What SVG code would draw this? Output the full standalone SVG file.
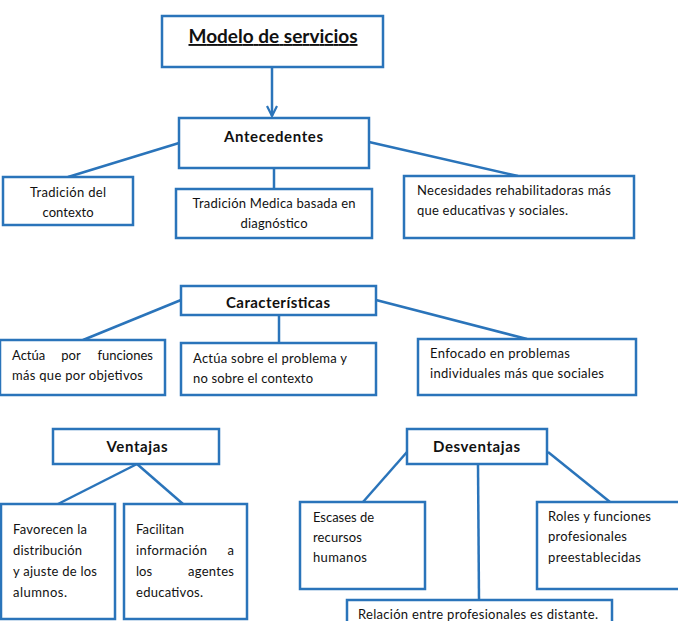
<svg xmlns="http://www.w3.org/2000/svg" width="678" height="621" viewBox="0 0 678 621">
<style>
.box{fill:#fff;stroke:#2A74BA;stroke-width:2.5}
.ln{stroke:#2A74BA;stroke-width:2.5;fill:none}
.t{font-family:Lato,"Open Sans","Liberation Sans",sans-serif;font-size:13px;fill:#111}
.h{font-family:Lato,"Open Sans","Liberation Sans",sans-serif;font-size:15px;font-weight:bold;fill:#111;text-anchor:middle}
.c{text-anchor:middle}
.e{text-anchor:end}
</style>
<defs>
<marker id="arr" viewBox="0 0 12 12" refX="11" refY="6" markerWidth="12" markerHeight="12" markerUnits="userSpaceOnUse" orient="auto">
<path d="M1,1 L11,6 L1,11" fill="none" stroke="#2A74BA" stroke-width="2.2"/>
</marker>
</defs>
<g id="connectors">
<line class="ln" x1="272" y1="67" x2="272" y2="116" marker-end="url(#arr)"/>
<line class="ln" x1="179" y1="143" x2="68" y2="177"/>
<line class="ln" x1="274" y1="168" x2="274" y2="189"/>
<line class="ln" x1="369" y1="142" x2="518" y2="176"/>
<line class="ln" x1="181" y1="300" x2="83" y2="340"/>
<line class="ln" x1="279" y1="315" x2="279" y2="343"/>
<line class="ln" x1="376" y1="300" x2="527" y2="339"/>
<line class="ln" x1="137" y1="464" x2="58" y2="504"/>
<line class="ln" x1="137" y1="464" x2="183" y2="504"/>
<line class="ln" x1="407" y1="452" x2="363" y2="502"/>
<line class="ln" x1="478" y1="464" x2="479" y2="600"/>
<line class="ln" x1="548" y1="452" x2="610" y2="502"/>
</g>
<g id="modelo">
<rect class="box" x="162" y="16" width="221" height="51"/>
<text x="273" y="43" text-anchor="middle" font-family="Lato,'Open Sans','Liberation Sans',sans-serif" font-size="19" font-weight="bold" text-decoration="underline" fill="#111" textLength="169">Modelo de servicios</text>
</g>
<g id="antecedentes">
<rect class="box" x="179" y="118" width="190" height="50"/>
<text class="h" x="273.5" y="142" textLength="99">Antecedentes</text>
</g>
<g id="tradicion-contexto">
<rect class="box" x="3" y="177" width="130" height="48"/>
<text class="t c" x="68" y="197" textLength="76">Tradición del</text>
<text class="t c" x="68" y="217" textLength="51">contexto</text>
</g>
<g id="tradicion-medica">
<rect class="box" x="176" y="189" width="196" height="49"/>
<text class="t c" x="274" y="208" textLength="163">Tradición Medica basada en</text>
<text class="t c" x="274" y="228" textLength="67">diagnóstico</text>
</g>
<g id="necesidades">
<rect class="box" x="404" y="176" width="230" height="62"/>
<text class="t" x="417" y="195" textLength="194">Necesidades rehabilitadoras más</text>
<text class="t" x="417" y="215" textLength="151">que educativas y sociales.</text>
</g>
<g id="caracteristicas">
<rect class="box" x="181" y="286" width="195" height="29"/>
<text class="h" x="278" y="308" textLength="104">Características</text>
</g>
<g id="actua-funciones">
<rect class="box" x="0" y="340" width="165" height="55"/>
<text class="t" x="12" y="360">Actúa</text>
<text class="t c" x="71" y="360">por</text>
<text class="t e" x="153" y="360">funciones</text>
<text class="t" x="12" y="380" textLength="131">más que por objetivos</text>
</g>
<g id="actua-problema">
<rect class="box" x="181" y="343" width="195" height="52"/>
<text class="t" x="193" y="363" textLength="154">Actúa sobre el problema y</text>
<text class="t" x="193" y="383" textLength="120">no sobre el contexto</text>
</g>
<g id="enfocado">
<rect class="box" x="418" y="339" width="218" height="56"/>
<text class="t" x="430" y="358" textLength="140">Enfocado en problemas</text>
<text class="t" x="430" y="378" textLength="174">individuales más que sociales</text>
</g>
<g id="ventajas">
<rect class="box" x="53" y="429" width="166" height="35"/>
<text class="h" x="137" y="452" textLength="61">Ventajas</text>
</g>
<g id="favorecen">
<rect class="box" x="1" y="504" width="114" height="115"/>
<text class="t" x="13" y="534" textLength="74">Favorecen la</text>
<text class="t" x="13" y="555" textLength="69">distribución</text>
<text class="t" x="13" y="576" textLength="84">y ajuste de los</text>
<text class="t" x="13" y="597" textLength="54">alumnos.</text>
</g>
<g id="facilitan">
<rect class="box" x="124" y="504" width="123" height="115"/>
<text class="t" x="136" y="534" textLength="48">Facilitan</text>
<text class="t" x="136" y="555" textLength="71">información</text>
<text class="t e" x="234" y="555">a</text>
<text class="t" x="136" y="576">los</text>
<text class="t e" x="234" y="576" textLength="46">agentes</text>
<text class="t" x="136" y="597" textLength="67">educativos.</text>
</g>
<g id="desventajas">
<rect class="box" x="407" y="429" width="140" height="35"/>
<text class="h" x="476.5" y="452" textLength="87">Desventajas</text>
</g>
<g id="escases">
<rect class="box" x="300" y="502" width="125" height="87"/>
<text class="t" x="313" y="522" textLength="61">Escases de</text>
<text class="t" x="313" y="542" textLength="49">recursos</text>
<text class="t" x="313" y="562" textLength="54">humanos</text>
</g>
<g id="roles">
<rect class="box" x="537" y="502" width="145" height="87"/>
<text class="t" x="548" y="521" textLength="103">Roles y funciones</text>
<text class="t" x="548" y="541" textLength="79">profesionales</text>
<text class="t" x="548" y="562" textLength="93">preestablecidas</text>
</g>
<g id="relacion">
<rect class="box" x="347" y="600" width="265" height="30"/>
<text class="t" x="358" y="619" textLength="240">Relación entre profesionales es distante.</text>
</g>
</svg>
